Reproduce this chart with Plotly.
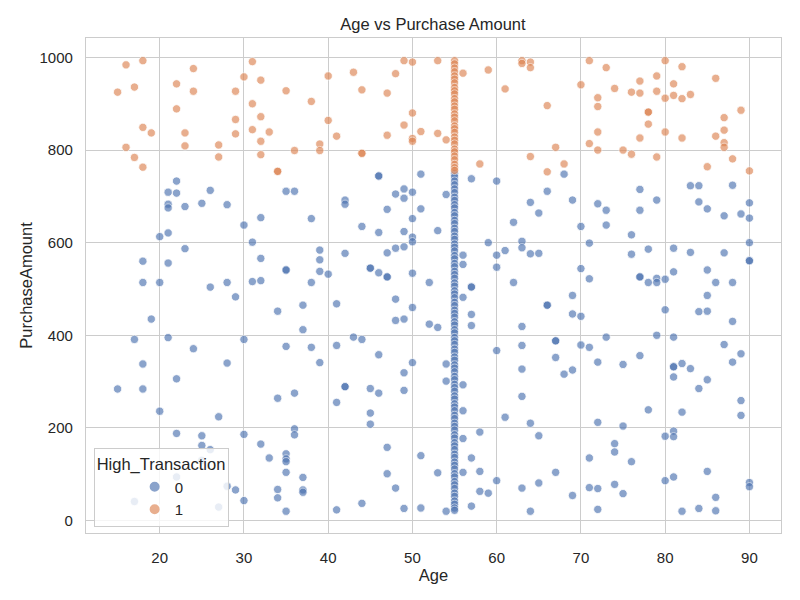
import plotly.graph_objects as go

# ---------------- data ----------------
# High_Transaction = 1 (orange), scattered points
age_1 = [16, 18, 15, 17, 22, 24, 24, 22, 18, 19, 23, 23, 16, 17, 18, 27, 27, 29, 29, 29,
         30, 31, 32, 31, 32, 31, 33, 32, 32, 34, 34, 35, 36, 38, 39, 39,
         40, 43, 44, 48, 47, 49, 50, 53, 40, 41, 50, 49, 51, 47, 50, 50, 53, 54, 44, 44,
         56, 59, 61, 63, 63, 64, 64, 66, 58, 64, 66,
         71, 73, 70, 72, 72, 74, 76, 77, 77, 79, 79, 80, 80, 81, 81, 82, 82, 83, 78, 78,
         78, 86, 87, 89, 72, 71, 72, 75, 76, 77, 79, 80, 82, 86, 87, 87, 87, 88, 85, 90,
         67, 68]
amount_1 = [984, 993, 925, 936, 943, 976, 927, 889, 849, 837, 837, 809, 806, 784, 763, 811, 785, 927, 866, 835,
            958, 991, 951, 900, 872, 844, 839, 819, 790, 754, 754, 928, 799, 905, 813, 799,
            960, 968, 930, 965, 923, 993, 990, 993, 864, 830, 880, 854, 840, 832, 825, 819, 836, 822, 793, 793,
            966, 973, 932, 993, 987, 990, 978, 896, 770, 786, 753,
            993, 978, 941, 913, 894, 933, 925, 923, 949, 960, 927, 993, 912, 943, 918, 980, 911, 920, 882, 882,
            856, 955, 870, 886, 839, 814, 800, 800, 791, 826, 785, 839, 826, 830, 843, 816, 806, 781, 764, 755,
            806, 770]

# column of imputed ages (Age = 55), High_Transaction = 1
col_amount_1 = [993, 986, 977, 969, 960, 953, 945, 935, 928, 921, 911, 904, 895, 888, 878, 871,
                863, 852, 846, 838, 828, 821, 813, 802, 796, 787, 779, 769, 762, 756]

# High_Transaction = 0 (blue), scattered points
age_0 = [22, 21, 22, 26, 21, 21, 23, 25, 28, 30, 32, 35, 36, 38, 20, 21, 31, 23, 18, 21, 32, 35, 35,
         39, 39, 39, 18, 20, 26, 28, 31, 32, 38,
         29, 19, 34, 37, 37, 17, 21, 24, 30, 35, 38, 39, 18, 28, 22, 15, 18, 34, 36, 20, 27, 36, 36,
         22, 25, 25, 26, 30, 32, 33, 35, 35, 35, 35, 37, 37, 37, 17, 22, 25, 28, 27, 29, 30, 34, 34, 35,
         46, 46, 51, 49, 50, 48, 49, 42, 42, 54, 47, 51, 50, 44, 46, 49, 50, 50, 53, 57, 60, 66, 64, 65,
         62, 59, 63, 63, 61, 60, 60, 64, 65, 56, 56, 40, 42, 45, 45, 47, 47, 46, 47, 48, 49, 50, 52, 57, 62,
         41, 48, 49, 48, 50, 52, 53, 56, 57, 57, 57, 63, 66, 66, 41, 43, 44, 46, 50, 49, 54, 54, 56, 60,
         63, 63, 63, 42, 42, 45, 46, 49, 41, 45, 45, 56, 61, 64, 65, 58, 56, 47, 51, 57, 47, 53, 56, 58,
         60, 48, 58, 59, 63, 65, 41, 44, 49, 51, 54, 57, 64,
         68, 69, 72, 73, 77, 77, 79, 83, 84, 88, 84, 85, 87, 89, 90, 90, 70, 73, 76, 71, 90, 76, 78, 81,
         83, 87, 90, 90, 70, 71, 77, 77, 78, 79, 79, 80, 81, 85, 86, 88,
         69, 69, 70, 80, 85, 84, 85, 88, 67, 67, 70, 71, 73, 67, 72, 69, 68, 75, 77, 79, 81, 81, 81, 82,
         83, 81, 85, 84, 87, 89, 88, 89, 89, 78, 82, 72, 75, 81, 81, 80, 74, 74, 76, 71, 67, 85, 81, 80,
         90, 90, 71, 72, 74, 75, 69, 86, 72, 82, 84, 86]
amount_0 = [733, 709, 707, 713, 683, 675, 678, 685, 682, 638, 654, 711, 711, 652, 613, 621, 601, 587, 560, 556, 566, 541, 541,
            584, 563, 538, 514, 514, 504, 514, 516, 518, 514,
            483, 435, 452, 465, 412, 391, 395, 371, 391, 376, 374, 341, 338, 340, 306, 284, 284, 264, 275, 236, 224, 198, 185,
            188, 183, 162, 153, 186, 165, 135, 144, 133, 127, 104, 93, 66, 61, 41, 94, 130, 74, 29, 66, 43, 67, 49, 20,
            744, 744, 748, 716, 709, 705, 696, 692, 683, 704, 672, 673, 652, 635, 622, 624, 612, 602, 626, 738, 733, 711, 687, 664,
            644, 600, 603, 589, 583, 573, 547, 576, 577, 573, 553, 532, 577, 545, 545, 526, 526, 535, 578, 588, 591, 534, 514, 505, 514,
            468, 478, 435, 432, 460, 424, 417, 482, 504, 445, 421, 419, 465, 465, 378, 396, 391, 358, 341, 319, 338, 301, 293, 367,
            378, 327, 268, 289, 289, 285, 275, 281, 255, 232, 208, 237, 223, 210, 183, 191, 177, 158, 140, 135, 101, 103, 104, 106,
            86, 70, 63, 59, 70, 81, 23, 37, 26, 27, 20, 31, 20,
            748, 692, 684, 670, 715, 670, 692, 723, 723, 724, 688, 673, 658, 662, 686, 653, 635, 638, 617, 599, 600, 575, 586, 588,
            579, 578, 561, 561, 544, 522, 526, 526, 514, 523, 514, 521, 537, 541, 514, 514,
            486, 446, 441, 455, 486, 451, 452, 430, 388, 388, 379, 374, 396, 352, 342, 325, 316, 337, 356, 400, 396, 332, 332, 339,
            328, 310, 304, 285, 380, 360, 342, 259, 227, 239, 234, 212, 204, 193, 181, 182, 166, 148, 127, 135, 104, 106, 94, 86,
            82, 73, 71, 69, 78, 58, 54, 50, 24, 20, 26, 21]

# column of imputed ages (Age = 55), High_Transaction = 0
col_amount_0 = [749, 742, 733, 725, 716, 708, 698, 691, 682, 675, 665, 658, 648, 641, 631, 624, 614, 607, 597, 590,
                582, 572, 565, 555, 548, 538, 531, 523, 513, 506, 496, 489, 481, 471, 464, 454, 447, 439, 429, 422,
                412, 405, 395, 388, 380, 370, 363, 353, 346, 336, 329, 321, 311, 304, 294, 287, 279, 269, 262, 252,
                245, 237, 227, 220, 210, 203, 195, 185, 178, 168, 161, 153, 143, 136, 126, 119, 111, 101, 94, 84,
                77, 69, 59, 52, 42, 35, 27, 22]
col_age = 55

x_ticks = [20, 30, 40, 50, 60, 70, 80, 90]
y_ticks = [0, 200, 400, 600, 800, 1000]

BLUE = "#4c72b0"
ORANGE = "#dd8452"
FONT = "Arial, Liberation Sans, Helvetica, sans-serif"

x0 = age_0 + [col_age] * len(col_amount_0)
y0 = amount_0 + col_amount_0
x1 = age_1 + [col_age] * len(col_amount_1)
y1 = amount_1 + col_amount_1

marker_common = dict(size=8.3, opacity=0.65, line=dict(color="white", width=0.8))

fig = go.Figure()
fig.add_trace(go.Scatter(x=x0, y=y0, mode="markers", name="0",
                         marker=dict(color=BLUE, **marker_common)))
fig.add_trace(go.Scatter(x=x1, y=y1, mode="markers", name="1",
                         marker=dict(color=ORANGE, **marker_common)))

axis_common = dict(showgrid=True, gridcolor="#cccccc", gridwidth=1,
                   showline=True, linecolor="#cccccc", linewidth=1.3, mirror=True,
                   zeroline=False, tickfont=dict(size=15, color="#262626", family=FONT))

# the page body adds an 8px offset; the figure is sized so the plot lands where the reference has it
W, H = 792, 592
fig.update_layout(
    width=W, height=H,
    paper_bgcolor="white", plot_bgcolor="white",
    margin=dict(l=78, r=19, t=30, b=67),
    font=dict(family=FONT, color="#262626"),
    title=dict(text="Age vs Purchase Amount", x=425 / W, xanchor="center",
               y=1 - 16 / H, yanchor="middle", font=dict(size=16.5, color="#262626")),
    xaxis=dict(range=[11.25, 93.75], tickvals=x_ticks,
               ticks="outside", ticklen=11, tickcolor="rgba(0,0,0,0)",
               title=dict(text="Age", font=dict(size=16.5, color="#262626"), standoff=4),
               **axis_common),
    yaxis=dict(range=[-27, 1042], tickvals=y_ticks, ticks="", ticklabelstandoff=9,
               title=dict(text="PurchaseAmount", font=dict(size=16.5, color="#262626"), standoff=2),
               **axis_common),
    legend=dict(title=dict(text="High_Transaction", font=dict(size=16.5, color="#262626")),
                font=dict(size=15, color="#262626"),
                x=0.011, xanchor="left", y=0.012, yanchor="bottom",
                bgcolor="rgba(255,255,255,0.8)", bordercolor="#cccccc", borderwidth=1,
                indentation=40, itemsizing="constant"),
)

fig.write_html("out.html")
